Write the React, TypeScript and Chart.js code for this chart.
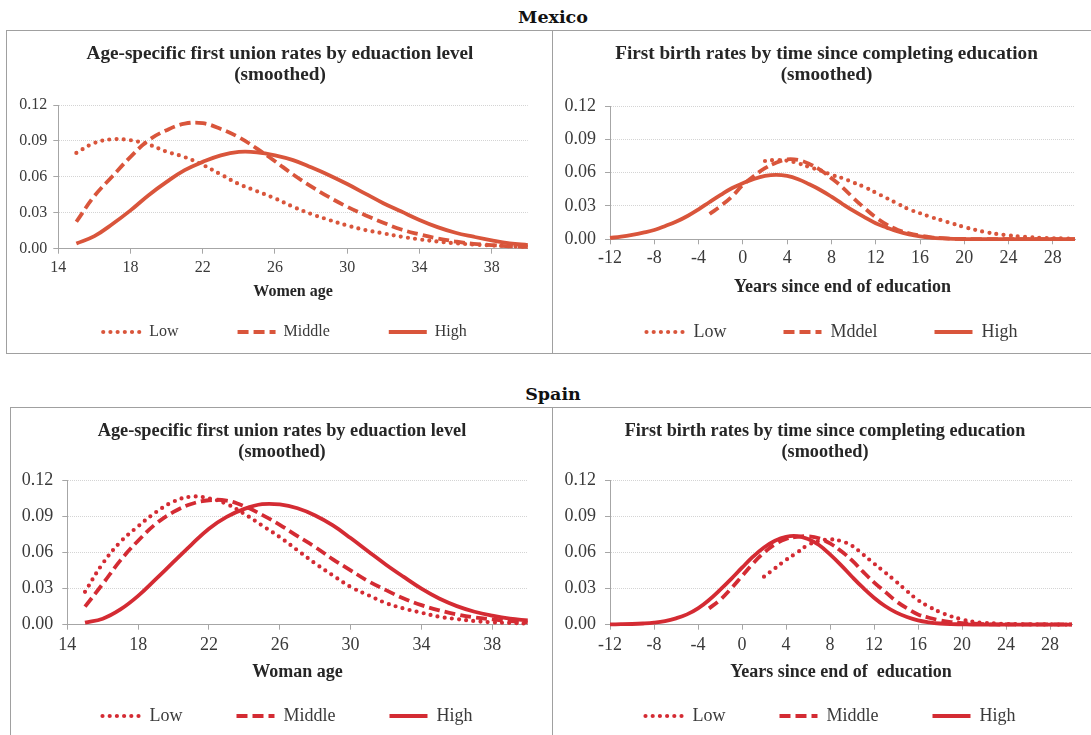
import React, { useEffect, useRef } from "react";
import { Chart, registerables } from "chart.js";

Chart.register(...registerables);

// ---------------- DATA ----------------
const AGES = [15, 16, 17, 18, 19, 20, 21, 22, 23, 24, 25, 26, 27, 28, 29, 30, 31, 32, 33, 34, 35, 36, 37, 38, 39, 40];
const YEARS = [-12, -11, -10, -9, -8, -7, -6, -5, -4, -3, -2, -1, 0, 1, 2, 3, 4, 5, 6, 7, 8, 9, 10, 11, 12, 13, 14, 15, 16, 17, 18, 19, 20, 21, 22, 23, 24, 25, 26, 27, 28, 29, 30];

const AGE_TICKS = [14, 18, 22, 26, 30, 34, 38];
const YEAR_TICKS = [-12, -8, -4, 0, 4, 8, 12, 16, 20, 24, 28];
const RATE_TICKS = [0, 0.03, 0.06, 0.09, 0.12];

const SERIES_LABELS = ["Low", "Middle", "High"];
const MX_BIRTH_LABELS = ["Low", "Mddel", "High"];

// Mexico – first union by age
const MX_UNION_LOW = [0.080, 0.0883, 0.0914, 0.0906, 0.087, 0.081, 0.0765, 0.070, 0.062, 0.054, 0.048, 0.042, 0.035, 0.029, 0.024, 0.0194, 0.0156, 0.0128, 0.010, 0.0078, 0.006, 0.0045, 0.0035, 0.0027, 0.002, 0.0015];
const MX_UNION_MID = [0.0225, 0.044, 0.0605, 0.0767, 0.0906, 0.099, 0.1044, 0.1048, 0.100, 0.093, 0.0836, 0.073, 0.062, 0.052, 0.043, 0.035, 0.028, 0.0217, 0.016, 0.012, 0.0086, 0.006, 0.004, 0.003, 0.002, 0.0015];
const MX_UNION_HIGH = [0.0044, 0.0105, 0.0206, 0.032, 0.0447, 0.0558, 0.0656, 0.0725, 0.078, 0.0808, 0.0805, 0.078, 0.074, 0.068, 0.0614, 0.054, 0.046, 0.038, 0.031, 0.024, 0.018, 0.0133, 0.010, 0.007, 0.0045, 0.003];

// Mexico – first birth by years since end of education
const MX_BIRTH_LOW = [null, null, null, null, null, null, null, null, null, null, null, null, null, null, 0.0705, 0.0714, 0.0708, 0.0684, 0.065, 0.062, 0.058, 0.055, 0.051, 0.047, 0.042, 0.037, 0.032, 0.027, 0.0235, 0.020, 0.017, 0.014, 0.011, 0.0085, 0.0063, 0.0047, 0.0035, 0.0025, 0.0018, 0.0013, 0.0009, 0.0007, 0.0005];
const MX_BIRTH_MID = [null, null, null, null, null, null, null, null, null, 0.0228, 0.030, 0.0384, 0.049, 0.057, 0.064, 0.069, 0.072, 0.0714, 0.0678, 0.0624, 0.055, 0.0468, 0.037, 0.028, 0.0198, 0.0132, 0.0084, 0.0054, 0.0033, 0.0018, 0.001, 0.0005, 0.0003, 0.0002, 0.0002, 0.0001, 0.0001, 0.0001, 0.0001, 0.0001, 0.0001, 0.0001, 0.0001];
const MX_BIRTH_HIGH = [0.0012, 0.0024, 0.004, 0.006, 0.0084, 0.012, 0.016, 0.021, 0.027, 0.0336, 0.040, 0.046, 0.0504, 0.0543, 0.057, 0.058, 0.057, 0.054, 0.0495, 0.0444, 0.0384, 0.0318, 0.0255, 0.0198, 0.0144, 0.0105, 0.007, 0.0045, 0.0027, 0.0015, 0.0008, 0.0004, 0.0002, 0.0001, 0.0001, 0.0001, 0.0001, 0.0001, 0.0001, 0.0001, 0.0001, 0.0001, 0.0001];

// Spain – first union by age
const SP_UNION_LOW = [0.0274, 0.051, 0.069, 0.082, 0.0937, 0.1026, 0.1067, 0.1053, 0.1006, 0.0923, 0.0827, 0.073, 0.062, 0.051, 0.041, 0.0315, 0.0246, 0.018, 0.0135, 0.010, 0.0066, 0.0047, 0.003, 0.002, 0.0014, 0.001];
const SP_UNION_MID = [0.015, 0.034, 0.0536, 0.070, 0.084, 0.094, 0.1006, 0.1037, 0.1034, 0.0987, 0.0915, 0.0832, 0.0738, 0.0647, 0.0545, 0.0453, 0.0362, 0.0288, 0.0218, 0.0163, 0.012, 0.0086, 0.006, 0.0044, 0.003, 0.002];
const SP_UNION_HIGH = [0.0017, 0.005, 0.0127, 0.024, 0.038, 0.0523, 0.0666, 0.080, 0.0898, 0.0965, 0.1004, 0.1002, 0.097, 0.091, 0.0827, 0.0722, 0.061, 0.050, 0.0398, 0.030, 0.0218, 0.0155, 0.0108, 0.0075, 0.005, 0.0035];

// Spain – first birth by years since end of education
const SP_BIRTH_LOW = [null, null, null, null, null, null, null, null, null, null, null, null, null, null, 0.040, 0.047, 0.054, 0.060, 0.0664, 0.0697, 0.0711, 0.0697, 0.0658, 0.0586, 0.051, 0.0436, 0.036, 0.028, 0.0205, 0.015, 0.0105, 0.007, 0.0044, 0.0025, 0.0015, 0.001, 0.0006, 0.0004, 0.0003, 0.0002, 0.0002, 0.0001, 0.0001];
const SP_BIRTH_MID = [null, null, null, null, null, null, null, null, null, 0.0136, 0.0206, 0.030, 0.0405, 0.051, 0.060, 0.067, 0.0714, 0.0733, 0.0736, 0.072, 0.0678, 0.0614, 0.0536, 0.0442, 0.0353, 0.0275, 0.0197, 0.0136, 0.0086, 0.0058, 0.0036, 0.0022, 0.0014, 0.0008, 0.0005, 0.0002, 0.0002, 0.0002, 0.0002, 0.0002, 0.0002, 0.0002, 0.0002];
const SP_BIRTH_HIGH = [0.0003, 0.0004, 0.0006, 0.001, 0.0017, 0.003, 0.0053, 0.0086, 0.0136, 0.0206, 0.029, 0.038, 0.0475, 0.0567, 0.0644, 0.070, 0.0733, 0.0739, 0.0714, 0.0664, 0.0586, 0.0497, 0.040, 0.0308, 0.0225, 0.0156, 0.0103, 0.0064, 0.0036, 0.002, 0.001, 0.0005, 0.0003, 0.0001, 0.0001, 0.0001, 0.0001, 0.0001, 0.0001, 0.0001, 0.0001, 0.0001, 0.0001];

// ---------------- STYLE ----------------
const MX_COLOR = "#D9553B";
const SP_COLOR = "#D42B33";
const AXIS_COLOR = "#a6a6a6";
const GRID_COLOR = "#d4d4d4";
const TEXT_COLOR = "#262626";
const TICK_COLOR = "#3a3a3a";
const SERIF = "'Liberation Serif', 'Times New Roman', serif";
const Y_AXIS_W = 46;
const X_AXIS_H = 34;
const LEGEND_BOX_H = 20;
const TITLE_LINE_PX = 21;

const STYLES = [
  { borderDash: [0, 7.2], borderCapStyle: "round", borderWidth: 4.2 },
  { borderDash: [11, 5], borderCapStyle: "butt", borderWidth: 3.8 },
  { borderDash: [], borderCapStyle: "butt", borderWidth: 3.8 },
];

// moves the legend and title boxes to their places after layout
const placeBoxes = {
  id: "placeBoxes",
  afterLayout(chart: any, _args: any, opts: any) {
    const lg = chart.legend;
    if (lg && opts && opts.legendTop != null) {
      const w = lg.right - lg.left;
      lg.left = opts.legendCenter - w / 2;
      lg.right = lg.left + w;
      lg.top = opts.legendTop;
      lg.bottom = opts.legendTop + opts.legendH;
      lg.width = w;
      lg.height = lg.bottom - lg.top;
    }
    const tt = chart.titleBlock;
    if (tt && opts && opts.titleCenter != null) {
      const w = tt.right - tt.left;
      tt.left = opts.titleCenter - w / 2;
      tt.right = tt.left + w;
    }
  },
};

type Geo = {
  left: number; top: number; width: number; height: number;
  area: [number, number, number, number];
  titleY: number; axisTitleY: number; legendY: number; titleCenter: number; legendCenter: number;
  titleSize: number; tickSize: number; axisSize: number; legendSize: number;
  legendPad: number; yPad: number; xPad: number;
};

type Props = {
  geo: Geo;
  xs: number[];
  series: (number | null)[][];
  labels: string[];
  xTicks: number[];
  xMin: number; xMax: number;
  title: string[];
  xTitle: string;
  color: string;
};

function LineChart({ geo, xs, series, labels, xTicks, xMin, xMax, title, xTitle, color }: Props) {
  const ref = useRef<HTMLCanvasElement>(null);
  useEffect(() => {
    const [aL, aT, aR, aB] = geo.area;
    const PR = geo.width - (aR - geo.left);
    const PL = aL - geo.left - Y_AXIS_W;
    const tPadTop = geo.titleY - geo.top - TITLE_LINE_PX / 2;
    const tPadBottom = aT - geo.top - tPadTop - 2 * TITLE_LINE_PX;
    const PB = geo.height - LEGEND_BOX_H - X_AXIS_H - (aB - geo.top);
    const axTitleLH = geo.axisSize * 1.2;
    const axTitlePadBottom = aB + X_AXIS_H - geo.axisTitleY - axTitleLH / 2;

    const datasets = series.map((ys, i) => ({
      label: labels[i],
      data: xs.map((x, j) => ({ x, y: ys[j] })).filter((p) => p.y !== null),
      borderColor: color,
      backgroundColor: color,
      borderWidth: STYLES[i].borderWidth,
      borderDash: STYLES[i].borderDash,
      borderCapStyle: STYLES[i].borderCapStyle,
      pointRadius: 0,
      pointHoverRadius: 0,
      tension: 0.4,
      fill: false,
      clip: false,
    }));

    const chart = new Chart(ref.current as HTMLCanvasElement, {
      type: "line",
      data: { datasets } as any,
      plugins: [placeBoxes],
      options: {
        animation: false,
        responsive: false,
        devicePixelRatio: 1,
        events: [],
        layout: { padding: { left: PL, right: PR, top: 0, bottom: PB } },
        scales: {
          x: {
            type: "linear",
            min: xMin,
            max: xMax,
            afterBuildTicks: (axis: any) => { axis.ticks = xTicks.map((v) => ({ value: v })); },
            afterFit: (s: any) => { s.height = X_AXIS_H; },
            ticks: {
              autoSkip: false, maxRotation: 0, padding: geo.xPad,
              color: TICK_COLOR, font: { family: SERIF, size: geo.tickSize },
              callback: (v: any) => String(v),
            },
            grid: { drawOnChartArea: false, drawTicks: true, tickLength: 5, tickColor: AXIS_COLOR, tickWidth: 1 },
            border: { display: true, color: AXIS_COLOR, width: 1 },
            title: {
              display: true, text: xTitle, color: TEXT_COLOR,
              font: { family: SERIF, size: geo.axisSize, weight: "bold", lineHeight: 1.2 },
              padding: { top: 0, bottom: axTitlePadBottom },
            },
          },
          y: {
            type: "linear",
            min: 0,
            max: 0.12,
            afterBuildTicks: (axis: any) => { axis.ticks = RATE_TICKS.map((v) => ({ value: v })); },
            afterFit: (s: any) => { s.width = Y_AXIS_W; },
            ticks: {
              padding: geo.yPad, color: TICK_COLOR, font: { family: SERIF, size: geo.tickSize },
              callback: (v: any) => Number(v).toFixed(2),
            },
            grid: {
              color: GRID_COLOR, lineWidth: 1, drawTicks: true, tickLength: 5,
              tickColor: AXIS_COLOR, tickBorderDash: [], tickWidth: 1,
            },
            border: { display: true, color: AXIS_COLOR, width: 1, dash: [1, 1] },
          },
        },
        plugins: {
          tooltip: { enabled: false },
          placeBoxes: {
            legendTop: geo.legendY - geo.top - geo.legendPad - geo.legendSize / 2,
            legendH: geo.legendPad + geo.legendSize + 10,
            legendCenter: geo.legendCenter - geo.left,
            titleCenter: geo.titleCenter - geo.left,
          },
          title: {
            display: true,
            text: title,
            color: TEXT_COLOR,
            font: { family: SERIF, size: geo.titleSize, weight: "bold", lineHeight: TITLE_LINE_PX / geo.titleSize },
            padding: { top: tPadTop, bottom: tPadBottom },
          },
          legend: {
            display: true,
            position: "bottom",
            maxHeight: LEGEND_BOX_H,
            labels: {
              usePointStyle: true,
              pointStyle: "line",
              pointStyleWidth: 38,
              padding: geo.legendPad,
              color: TICK_COLOR,
              font: { family: SERIF, size: geo.legendSize },
              generateLabels: (c: any) =>
                c.data.datasets.map((ds: any, i: number) => ({
                  text: ds.label,
                  datasetIndex: i,
                  hidden: false,
                  strokeStyle: ds.borderColor,
                  fillStyle: ds.borderColor,
                  lineWidth: ds.borderWidth,
                  lineDash: ds.borderDash,
                  lineCap: ds.borderCapStyle,
                  pointStyle: "line",
                  fontColor: TICK_COLOR,
                })),
            },
          },
        },
      } as any,
    });
    return () => chart.destroy();
  }, []);
  return (
    <canvas
      ref={ref}
      width={geo.width}
      height={geo.height}
      style={{ position: "absolute", left: geo.left, top: geo.top, width: geo.width, height: geo.height }}
    />
  );
}

const GEO_TL: Geo = {
  left: 7, top: 31, width: 545, height: 322, area: [58.3, 105, 527.8, 248.7],
  titleY: 54, axisTitleY: 292, legendY: 332, titleCenter: 280, legendCenter: 285,
  titleSize: 19.2, tickSize: 16, axisSize: 16, legendSize: 16, legendPad: 59, yPad: 6, xPad: 4,
};
const GEO_TR: Geo = {
  left: 553, top: 31, width: 538, height: 322, area: [610, 106, 1075, 239.3],
  titleY: 54, axisTitleY: 287, legendY: 332, titleCenter: 826.5, legendCenter: 832,
  titleSize: 19.2, tickSize: 18, axisSize: 18, legendSize: 18, legendPad: 57, yPad: 9, xPad: 3,
};
const GEO_BL: Geo = {
  left: 11, top: 408, width: 541, height: 327, area: [67.3, 480.7, 527.7, 624.7],
  titleY: 431, axisTitleY: 672, legendY: 716, titleCenter: 282, legendCenter: 287.5,
  titleSize: 18.3, tickSize: 18, axisSize: 18, legendSize: 18, legendPad: 54, yPad: 9, xPad: 5,
};
const GEO_BR: Geo = {
  left: 553, top: 408, width: 538, height: 327, area: [610, 480.7, 1072, 624.7],
  titleY: 431, axisTitleY: 672, legendY: 716, titleCenter: 825, legendCenter: 830.5,
  titleSize: 18.2, tickSize: 18, axisSize: 18, legendSize: 18, legendPad: 54, yPad: 9, xPad: 5,
};

const panelBorder = "1px solid #a0a0a0";

export default function App() {
  useEffect(() => {
    document.body.style.margin = "0";
  }, []);
  const heading: React.CSSProperties = {
    position: "absolute", left: 0, width: 1106, textAlign: "center",
    fontFamily: "'DejaVu Serif', serif", fontWeight: "bold", fontSize: 17.5,
    lineHeight: "20px", color: "#111",
  };
  return (
    <div style={{ position: "relative", width: 1091, height: 735, overflow: "hidden", background: "#fff" }}>
      <div style={{ ...heading, top: 7 }}>Mexico</div>
      <div style={{ ...heading, top: 384 }}>Spain</div>

      <div style={{ position: "absolute", left: 6, top: 30, width: 547, height: 324, border: panelBorder, boxSizing: "border-box" }} />
      <div style={{ position: "absolute", left: 552, top: 30, width: 560, height: 324, borderTop: panelBorder, borderBottom: panelBorder, boxSizing: "border-box" }} />
      <div style={{ position: "absolute", left: 10, top: 407, width: 543, height: 400, borderLeft: panelBorder, borderTop: panelBorder, borderRight: panelBorder, boxSizing: "border-box" }} />
      <div style={{ position: "absolute", left: 552, top: 407, width: 560, height: 400, borderTop: panelBorder, boxSizing: "border-box" }} />

      <LineChart
        geo={GEO_TL} xs={AGES} series={[MX_UNION_LOW, MX_UNION_MID, MX_UNION_HIGH]} labels={SERIES_LABELS}
        xTicks={AGE_TICKS} xMin={14} xMax={40}
        title={["Age-specific first union rates by eduaction level", "(smoothed)"]}
        xTitle="Women age" color={MX_COLOR}
      />
      <LineChart
        geo={GEO_TR} xs={YEARS} series={[MX_BIRTH_LOW, MX_BIRTH_MID, MX_BIRTH_HIGH]} labels={MX_BIRTH_LABELS}
        xTicks={YEAR_TICKS} xMin={-12} xMax={30}
        title={["First birth rates by time since completing education", "(smoothed)"]}
        xTitle="Years since end of education" color={MX_COLOR}
      />
      <LineChart
        geo={GEO_BL} xs={AGES} series={[SP_UNION_LOW, SP_UNION_MID, SP_UNION_HIGH]} labels={SERIES_LABELS}
        xTicks={AGE_TICKS} xMin={14} xMax={40}
        title={["Age-specific first union rates by eduaction level", "(smoothed)"]}
        xTitle="Woman age" color={SP_COLOR}
      />
      <LineChart
        geo={GEO_BR} xs={YEARS} series={[SP_BIRTH_LOW, SP_BIRTH_MID, SP_BIRTH_HIGH]} labels={SERIES_LABELS}
        xTicks={YEAR_TICKS} xMin={-12} xMax={30}
        title={["First birth rates by time since completing education", "(smoothed)"]}
        xTitle="Years since end of  education" color={SP_COLOR}
      />
    </div>
  );
}
